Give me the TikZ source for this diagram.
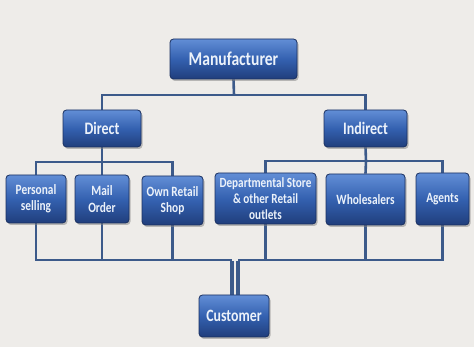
\documentclass[tikz,border=0pt]{standalone}
\usepackage{fontspec}
\setmainfont{Carlito}
\newfontfamily\boxfont[FakeStretch=0.8]{Carlito}
\usetikzlibrary{shadows}
\pgfdeclarelayer{back}
\pgfdeclarelayer{conns}
\pgfsetlayers{back,conns,main}
\definecolor{bg}{RGB}{238,236,233}
\definecolor{btop}{RGB}{98,142,214}
\definecolor{bmid}{RGB}{52,97,176}
\definecolor{bbot}{RGB}{32,62,124}
\definecolor{bedge}{RGB}{26,48,96}
\definecolor{lineblue}{RGB}{60,90,138}
\definecolor{boxtext}{RGB}{236,242,250}
\tikzset{
  box/.style={draw=bedge, line width=0.8pt, rounded corners=3.5pt,
    top color=btop, bottom color=bbot, middle color=bmid,
    drop shadow={shadow xshift=1.5pt, shadow yshift=-2pt, opacity=0.5},
    text=boxtext, font=\boxfont\bfseries\fontsize{14.2}{16.3}\selectfont,
    align=center, inner sep=0pt},
  midfont/.style={font=\boxfont\bfseries\fontsize{17.5}{19}\selectfont},
  conn/.style={draw=lineblue, line width=2.6pt},
  thickconn/.style={draw=lineblue, line width=4.6pt}
}
\begin{document}
\begin{tikzpicture}[x=1pt,y=-1pt]
\begin{pgfonlayer}{back}
\fill[bg] (0,0) rectangle (474,347);
\end{pgfonlayer}
\useasboundingbox (0,0) rectangle (474,347);

% junction coordinates
\coordinate (t1) at (234,95);
\coordinate (t2) at (102,162);
\coordinate (t3) at (366,161);
\coordinate (bl) at (231.8,260);
\coordinate (br) at (237.8,260);

% boxes
\path (233.5,59) node[box, minimum width=127pt, minimum height=40pt, font=\boxfont\bfseries\fontsize{19.5}{21}\selectfont] (man) {Manufacturer};
\path (102,128.5) node[box, midfont, minimum width=78pt, minimum height=37pt] (direct) {Direct};
\path (365.5,128.5) node[box, midfont, minimum width=83pt, minimum height=37pt] (indirect) {Indirect};
\path (36,199) node[box, minimum width=60pt, minimum height=48pt] (ps) {Personal\\selling};
\path (102,199) node[box, minimum width=54pt, minimum height=48pt] (mo) {Mail\\Order};
\path (172.5,200.5) node[box, minimum width=61pt, minimum height=49pt] (ors) {Own Retail\\Shop};
\path (265.5,198.5) node[box, minimum width=101pt, minimum height=51pt, font=\boxfont\bfseries\fontsize{14}{16.3}\selectfont] (dep) {Departmental Store\\\& other Retail\\outlets};
\path (365.5,199.5) node[box, minimum width=79pt, minimum height=51pt] (wh) {Wholesalers};
\path (442.5,199) node[box, minimum width=53pt, minimum height=52pt] (ag) {Agents};
\path (234,316) node[box, minimum width=70pt, minimum height=42pt, font=\boxfont\bfseries\fontsize{17.3}{19}\selectfont] (cust) {Customer};

% connectors behind boxes
\begin{pgfonlayer}{conns}
\draw[conn] (man.south) -- (t1);
\draw[conn] (direct.north) |- (t1) -| (indirect.north);
\draw[conn] (direct.south) -- (t2);
\draw[conn] (ps.north) |- (t2) -| (ors.north);
\draw[conn] (mo.north) -- (t2);
\draw[conn] (indirect.south) -- (t3);
\draw[conn] (dep.north) |- (t3) -| (ag.north);
\draw[conn] (wh.north) -- (t3);
\draw[conn] (ps.south) |- (bl);
\draw[conn] (mo.south) -- (mo.south |- bl);
\draw[conn] (ors.south) -- (ors.south |- bl);
\draw[conn] (ag.south) |- (br);
\draw[conn] (dep.south) -- (dep.south |- br);
\draw[conn] (wh.south) -- (wh.south |- br);
\draw[thickconn] ([yshift=-1.3pt]bl) -- (bl |- cust.north);
\draw[thickconn, line width=4.2pt] ([yshift=-1.3pt]br) -- (br |- cust.north);
\end{pgfonlayer}
\end{tikzpicture}
\end{document}
